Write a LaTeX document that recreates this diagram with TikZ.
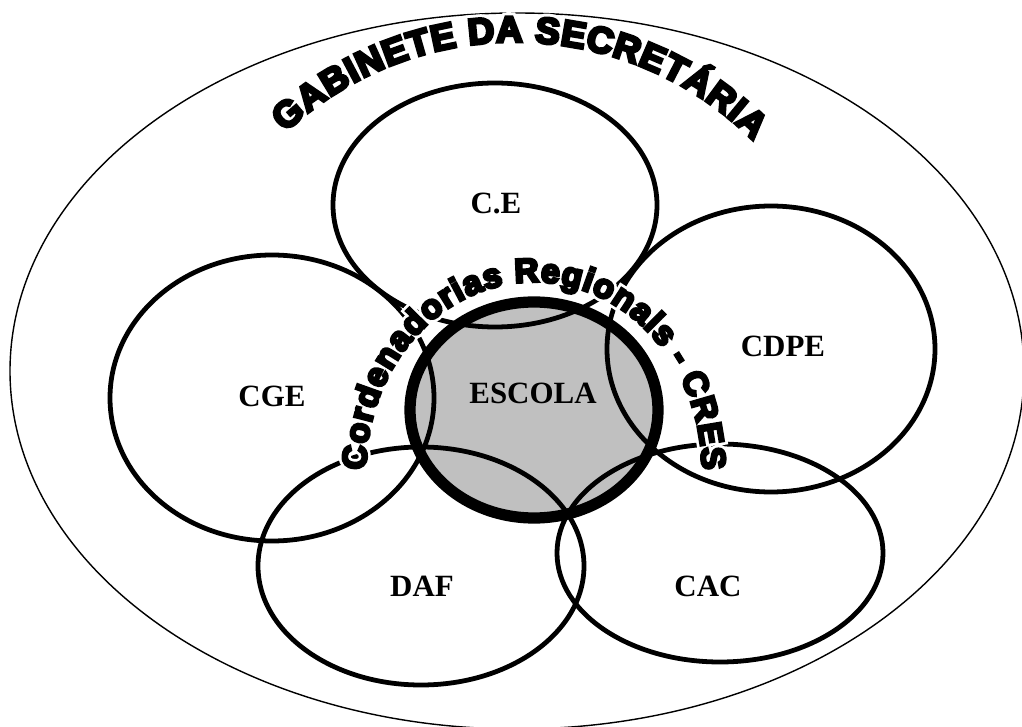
\documentclass[tikz,border=0pt]{standalone}
\usepackage{fontspec}
\setmainfont{Liberation Serif}
\newfontfamily\wordart[FakeBold=8]{Liberation Sans Bold}
\newfontfamily\wordhalo[FakeBold=24]{Liberation Sans Bold}
\usetikzlibrary{calc,decorations.text}
\definecolor{escolacinza}{RGB}{192,192,192}
\newcommand{\gabsize}{\fontsize{26}{26}\selectfont}
\newcommand{\cressize}{\fontsize{24}{24}\selectfont}
\def\curvedtext[#1](#2)(#3:#4:#5)#6% Syntax: [font size] (center) (initial angle:final angle:radius) {text}
  { \path[decorate, decoration={text along path, text align=fit to path, text color=white, text={|#1\wordhalo|#6}}] ($(#2)+(#3:#5)$) arc (#3:#4:#5);
    \path[decorate, decoration={text along path, text align=fit to path, text={|#1\wordart|#6}}] ($(#2)+(#3:#5)$) arc (#3:#4:#5); }

\begin{document}
\begin{tikzpicture}[x=0.025cm, y=0.025cm,
  orgao/.style={line width=3.4pt},
  rotulo/.style={font=\fontsize{22}{22}\selectfont\bfseries, inner sep=0pt}]
\useasboundingbox (0,0) rectangle (1022,726);
% gabinete
\coordinate (gab) at (517,355);
\draw[line width=1pt] (gab) ellipse [x radius=507, y radius=358];
% escola, filled before the others
\coordinate (esc) at (534,316);
\fill[escolacinza] (esc) ellipse [x radius=124, y radius=108];
% the five ellipses around the school
\foreach \nome/\cx/\cy/\rx/\ry in {ce/495/521/162/122, cge/272/328/162/143,
    cdpe/771/377/164/143, daf/421/160/163/119, cac/720/173/163/109}
  { \coordinate (\nome) at (\cx,\cy);
    \draw[orgao] (\nome) ellipse [x radius=\rx, y radius=\ry]; }
\draw[line width=8pt] (esc) ellipse [x radius=124, y radius=108];
% labels
\node[rotulo] (ce-rot) at (496,523) {C.E};
\node[rotulo] (cge-rot) at (272,330) {CGE};
\node[rotulo] (cdpe-rot) at (783,380) {CDPE};
\node[rotulo] (esc-rot) at (533,333) {ESCOLA};
\node[rotulo] (daf-rot) at (422,140) {DAF};
\node[rotulo] (cac-rot) at (708,140) {CAC};
% curved titles
\coordinate (gabtxt) at (515,347);
\coordinate (cres) at (534,256);
\curvedtext[\cressize](cres)(180:0:168 and 188){Cordenadorias Regionais - CRES}
\curvedtext[\gabsize](gabtxt)(133:45:337){GABINETE DA SECRETÁRIA}
\end{tikzpicture}
\end{document}
